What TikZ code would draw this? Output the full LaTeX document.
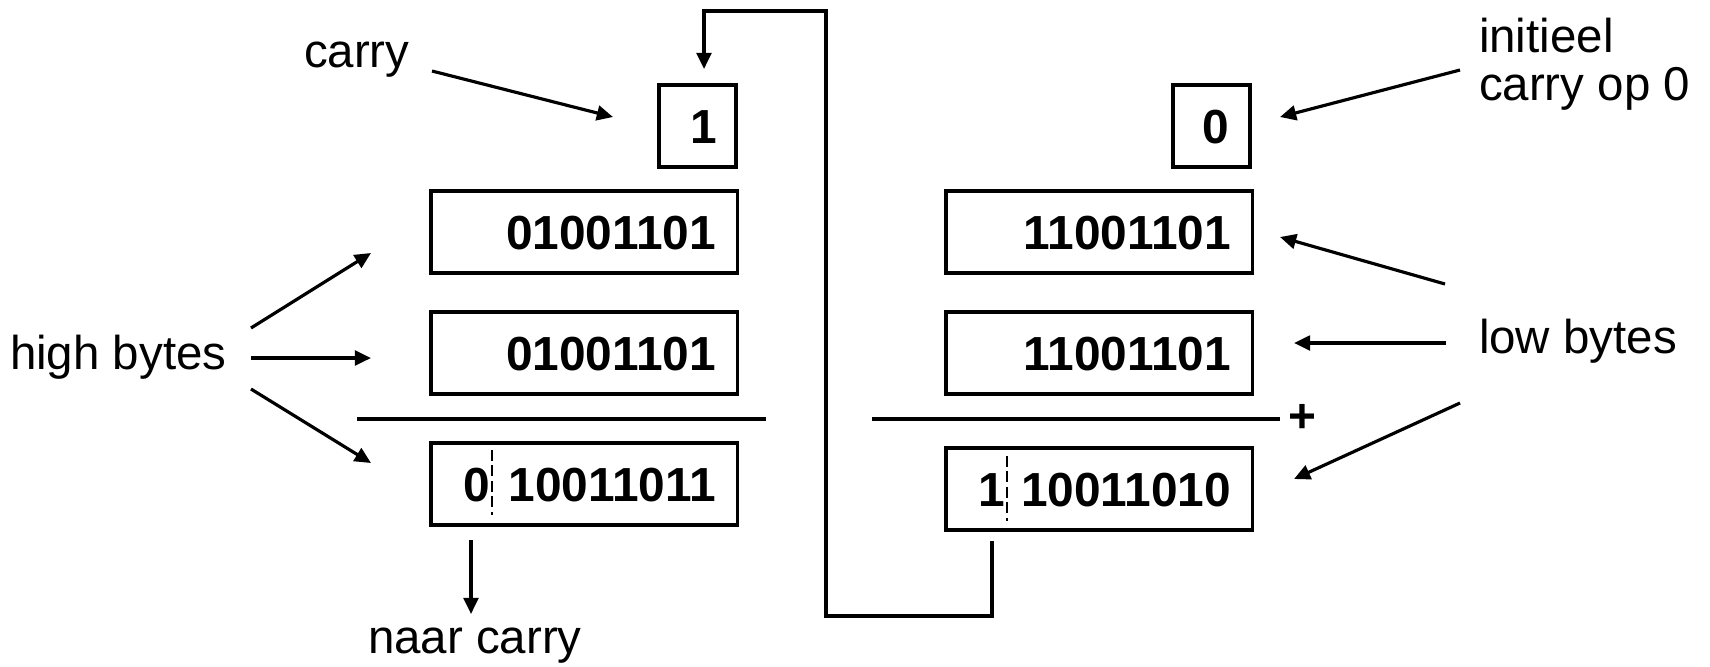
\documentclass[tikz,border=0pt]{standalone}
\usepackage{fontspec}
\setmainfont{Liberation Sans}
\usetikzlibrary{arrows.meta}
\begin{document}
\begin{tikzpicture}[x=0.01cm,y=-0.01cm,
  every node/.style={inner sep=0pt, outer sep=0pt},
  bytebox/.style={draw, line width=0.9pt, minimum width=3.06cm, minimum height=0.82cm, anchor=north west},
  carrybox/.style={draw, line width=0.9pt, minimum width=0.77cm, minimum height=0.82cm, anchor=north west},
  num/.style={font=\fontsize{13.6}{16}\selectfont\bfseries, anchor=base east},
  lbl/.style={font=\fontsize{13.5}{16}\selectfont, anchor=base west},
  arr/.style={line width=0.9pt, -{Triangle[length=4.6pt,width=4.2pt]}},
  sep/.style={line width=0.9pt},
  cut/.style={line width=0.75pt, dash pattern=on 3pt off 1.4pt}
]
\useasboundingbox (0,0) rectangle (1710,666);

% carry boxes
\node[carrybox] (c1) at (659,85) {};
\node[num] at ([xshift=-0.19cm,yshift=-0.17cm]c1.east) {1};
\node[carrybox] (c0) at (1173,85) {};
\node[num] at ([xshift=-0.21cm,yshift=-0.17cm]c0.east) {0};

% high bytes
\node[bytebox] (h1) at (431,191) {};
\node[num] at ([xshift=-0.21cm,yshift=-0.17cm]h1.east) {01001101};
\node[bytebox] (h2) at (431,312) {};
\node[num] at ([xshift=-0.21cm,yshift=-0.17cm]h2.east) {01001101};
\node[bytebox] (h3) at (431,443) {};
\node[num] at ([xshift=-0.21cm,yshift=-0.17cm]h3.east) {10011011};
\node[num] at ([xshift=0.59cm,yshift=-0.17cm]h3.west) {0};
\draw[cut] ([xshift=0.61cm,yshift=-0.07cm]h3.north west) -- ([xshift=0.61cm,yshift=0.10cm]h3.south west);

% low bytes
\node[bytebox] (l1) at (946,191) {};
\node[num] at ([xshift=-0.21cm,yshift=-0.17cm]l1.east) {11001101};
\node[bytebox] (l2) at (946,312) {};
\node[num] at ([xshift=-0.21cm,yshift=-0.17cm]l2.east) {11001101};
\node[bytebox] (l3) at (946,448) {};
\node[num] at ([xshift=-0.21cm,yshift=-0.17cm]l3.east) {10011010};
\node[num] at ([xshift=0.59cm,yshift=-0.17cm]l3.west) {1};
\draw[cut] ([xshift=0.61cm,yshift=-0.08cm]l3.north west) -- ([xshift=0.61cm,yshift=0.09cm]l3.south west);

% separators
\draw[sep] (357,419) -- (766,419);
\draw[sep] (872,419) -- (1280,419);
\node[font=\fontsize{13.6}{16}\selectfont\bfseries] (plus) at (1302,418) {+};

% labels
\node[lbl] (carry) at (304,67) {carry};
\node[lbl] (init1) at (1479,52) {initieel};
\node[lbl] (init2) at (1479,100) {carry op 0};
\node[lbl] (high) at (10,369) {high bytes};
\node[lbl] (low) at (1479,353) {low bytes};
\node[lbl] (naar) at (368,653) {naar carry};

% arrow end points
\coordinate (carryS) at (432,71);   \coordinate (carryT) at (613,117);
\coordinate (initS) at (1460,70);   \coordinate (initT) at (1280,117);
\coordinate (hiS1) at (251,328);    \coordinate (hiT1) at (371,253);
\coordinate (hiS2) at (251,358);    \coordinate (hiT2) at (371,358);
\coordinate (hiS3) at (251,389);    \coordinate (hiT3) at (371,463);
\coordinate (loS1) at (1445,284);   \coordinate (loT1) at (1280,237);
\coordinate (loS2) at (1446,343);   \coordinate (loT2) at (1294,343);
\coordinate (loS3) at (1460,403);   \coordinate (loT3) at (1294,479);
\coordinate (naarS) at (471,540);   \coordinate (naarT) at (471,614);
\coordinate (loopS) at (992,541);   \coordinate (loopT) at (704,69);

\draw[arr] (carryS) -- (carryT);
\draw[arr] (initS) -- (initT);
\draw[arr] (hiS1) -- (hiT1);
\draw[arr] (hiS2) -- (hiT2);
\draw[arr] (hiS3) -- (hiT3);
\draw[arr] (loS1) -- (loT1);
\draw[arr] (loS2) -- (loT2);
\draw[arr] (loS3) -- (loT3);
\draw[arr] (naarS) -- (naarT);
\draw[arr] (loopS) -- ++(0,75) -| (826,11) -| (loopT);
\end{tikzpicture}
\end{document}
